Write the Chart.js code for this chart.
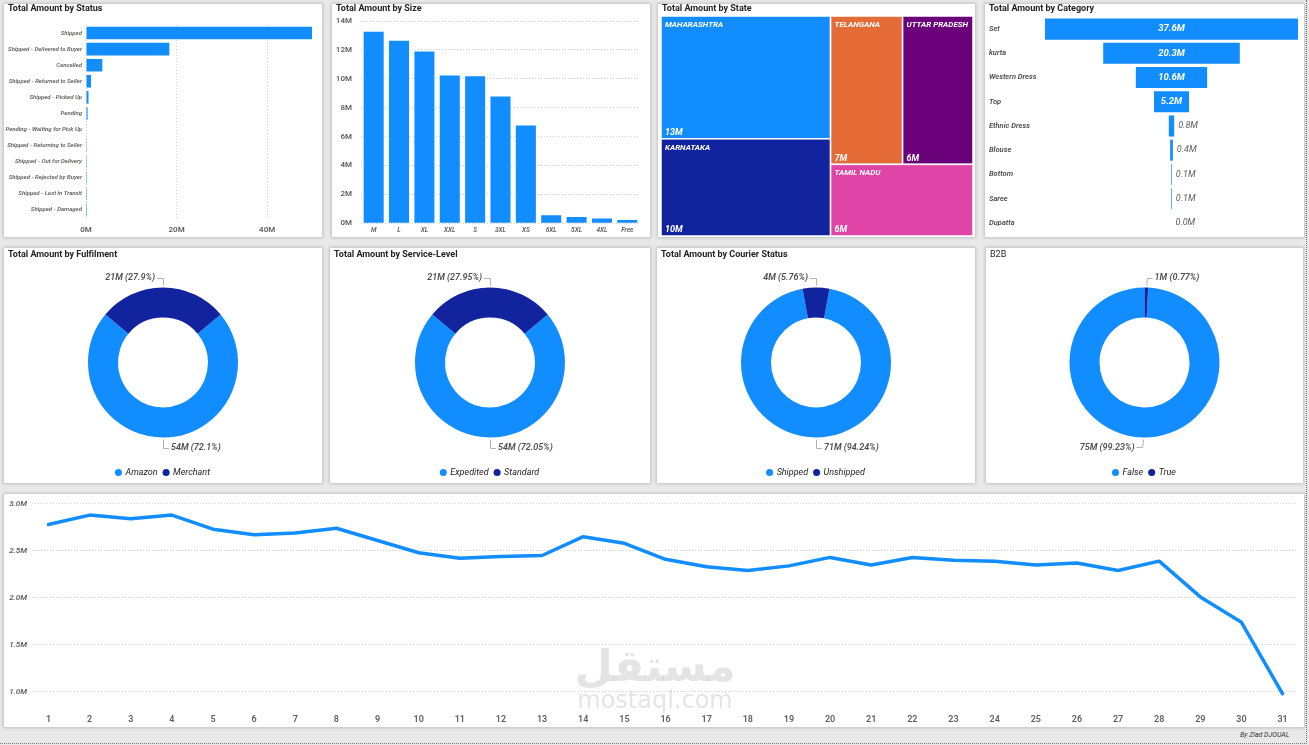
<!DOCTYPE html>
<html>
<head>
<meta charset="utf-8">
<title>Amazon Sales Dashboard</title>
<script src="https://cdn.jsdelivr.net/npm/chart.js@4.4.1/dist/chart.umd.min.js"></script>
<style>
  body { margin: 0; background: #e9e9e9; font-family: 'Segoe UI', Roboto, 'Noto Sans', sans-serif; }
  #page { position: relative; width: 1309px; height: 745px; overflow: hidden; }
  #frame { position: absolute; left: 0; top: 0; width: 1306px; height: 743px; border-right: 1px dotted #777; border-bottom: 1px dotted #777; }
  .panel { position: absolute; background: #fff; box-shadow: 0 0 3px 1px rgba(0,0,0,0.18); }
  .panel canvas { position: absolute; left: 0; top: 0; }
  .title { position: absolute; left: 4px; top: -1px; font-size: 9px; font-weight: bold; color: #252423; z-index: 2; white-space: nowrap; }
  #mark { position: absolute; left: 560px; top: 640px; width: 190px; text-align: center; color: rgba(170,170,170,0.32); pointer-events: none; z-index: 5; }
  #mark .ar { font-family: 'DejaVu Sans', sans-serif; font-weight: bold; font-size: 44px; line-height: 52px; }
  #mark .en { font-family: 'DejaVu Sans', sans-serif; font-size: 24px; line-height: 24px; margin-top: -4px; }
  #credit { position: absolute; left: 1240px; top: 731px; font-size: 7px; font-style: italic; color: #333; }
</style>
</head>
<body>
<div id="page">
  <div id="frame"></div>

  <div class="panel" style="left:4px;top:4px;width:318px;height:233px">
    <div class="title">Total Amount by Status</div>
    <canvas id="statusChart" width="318" height="233"></canvas>
  </div>
  <div class="panel" style="left:332px;top:4px;width:318px;height:233px">
    <div class="title">Total Amount by Size</div>
    <canvas id="sizeChart" width="318" height="233"></canvas>
  </div>
  <div class="panel" style="left:658px;top:4px;width:317px;height:233px">
    <div class="title">Total Amount by State</div>
    <canvas id="stateChart" width="317" height="233"></canvas>
  </div>
  <div class="panel" style="left:985px;top:4px;width:319px;height:233px">
    <div class="title">Total Amount by Category</div>
    <canvas id="categoryChart" width="319" height="233"></canvas>
  </div>

  <div class="panel" style="left:4px;top:248px;width:318px;height:235px">
    <div class="title" style="top:1px">Total Amount by Fulfilment</div>
    <canvas id="fulfilChart" width="318" height="235"></canvas>
  </div>
  <div class="panel" style="left:330px;top:248px;width:320px;height:235px">
    <div class="title" style="top:1px">Total Amount by Service-Level</div>
    <canvas id="serviceChart" width="320" height="235"></canvas>
  </div>
  <div class="panel" style="left:657px;top:248px;width:318px;height:235px">
    <div class="title" style="top:1px">Total Amount by Courier Status</div>
    <canvas id="courierChart" width="318" height="235"></canvas>
  </div>
  <div class="panel" style="left:986px;top:248px;width:317px;height:235px">
    <div class="title" style="top:1px;font-weight:normal">B2B</div>
    <canvas id="b2bChart" width="317" height="235"></canvas>
  </div>

  <div class="panel" style="left:4px;top:494px;width:1300px;height:233px">
    <canvas id="dailyChart" width="1300" height="233"></canvas>
  </div>

  <div id="mark"><div class="ar">مستقل</div><div class="en">mostaql.com</div></div>
  <div id="credit">By Ziad DJOUAL</div>
</div>

<script>
// amounts are in millions
const statusLabels = ['Shipped', 'Shipped - Delivered to Buyer', 'Cancelled', 'Shipped - Returned to Seller',
  'Shipped - Picked Up', 'Pending', 'Pending - Waiting for Pick Up', 'Shipped - Returning to Seller',
  'Shipped - Out for Delivery', 'Shipped - Rejected by Buyer', 'Shipped - Lost in Transit', 'Shipped - Damaged'];
const statusAmounts = [49.9, 18.4, 3.6, 1.1, 0.55, 0.35, 0.12, 0.05, 0.04, 0.03, 0.02, 0.01];
const statusTicks = [0, 20, 40];

const sizeLabels = ['M', 'L', 'XL', 'XXL', 'S', '3XL', 'XS', '6XL', '5XL', '4XL', 'Free'];
const sizeAmounts = [13.26, 12.64, 11.88, 10.23, 10.18, 8.78, 6.76, 0.55, 0.43, 0.32, 0.23];
const sizeTicks = [0, 2, 4, 6, 8, 10, 12, 14];

const stateLabels = ['MAHARASHTRA', 'KARNATAKA', 'TELANGANA', 'UTTAR PRADESH', 'TAMIL NADU'];
const stateAmounts = [12.86, 10.18, 6.6, 6.45, 6.3];

const categoryLabels = ['Set', 'kurta', 'Western Dress', 'Top', 'Ethnic Dress', 'Blouse', 'Bottom', 'Saree', 'Dupatta'];
const categoryAmounts = [37.6, 20.3, 10.6, 5.2, 0.8, 0.4, 0.1, 0.1, 0.0];

const fulfilLabels = ['Amazon', 'Merchant'];
const fulfilAmounts = [54.075, 20.925];
const serviceLabels = ['Expedited', 'Standard'];
const serviceAmounts = [54.0375, 20.9625];
const courierLabels = ['Shipped', 'Unshipped'];
const courierAmounts = [70.68, 4.32];
const b2bLabels = ['False', 'True'];
const b2bAmounts = [75.02, 0.58];

const days = [1, 2, 3, 4, 5, 6, 7, 8, 9, 10, 11, 12, 13, 14, 15, 16, 17, 18, 19, 20, 21, 22, 23, 24, 25, 26, 27, 28, 29, 30, 31];
const dailyAmounts = [2.78, 2.88, 2.84, 2.88, 2.73, 2.67, 2.69, 2.74, 2.61, 2.48, 2.42, 2.44, 2.45, 2.65, 2.58, 2.41,
  2.33, 2.29, 2.34, 2.43, 2.35, 2.43, 2.40, 2.39, 2.35, 2.37, 2.29, 2.39, 2.01, 1.74, 0.98];
const dailyTicks = [1.0, 1.5, 2.0, 2.5, 3.0];

const BLUE = '#118DFF';
const NAVY = '#12239E';
const stateColors = ['#118DFF', '#12239E', '#E66C37', '#6B007B', '#E044A7'];
const FONT = "'Segoe UI', Roboto, 'Noto Sans', sans-serif";
const GREY = '#605E5C';

Chart.defaults.font.family = FONT;
Chart.defaults.color = GREY;
Chart.defaults.animation = false;
Chart.defaults.responsive = false;
Chart.defaults.plugins.tooltip.enabled = false;

const dotted = { color: '#cfcfcf', drawTicks: false };
const noBorder = { display: false, dash: [1, 2] };
const noGrid = { display: false, drawTicks: false };

// ---------- Status (horizontal bars) ----------
new Chart(document.getElementById('statusChart'), {
    type: 'bar',
    data: {
        labels: statusLabels,
        datasets: [{ data: statusAmounts, backgroundColor: BLUE, barPercentage: 0.78, categoryPercentage: 1 }]
    },
    options: {
        indexAxis: 'y',
        layout: { padding: { top: 21, right: 10 } },
        plugins: { legend: { display: false } },
        scales: {
            x: {
                min: 0, max: Math.max(...statusAmounts),
                afterBuildTicks: s => { s.ticks = statusTicks.map(v => ({ value: v })); },
                afterFit: s => { s.height = 19; },
                grid: dotted, border: noBorder,
                ticks: { padding: 7, font: { size: 8, weight: '600' }, callback: v => v + 'M' }
            },
            y: {
                afterFit: s => { s.width = 82; },
                grid: noGrid, border: { display: false },
                ticks: { padding: 4, font: { size: 6, style: 'italic', weight: '600' }, autoSkip: false }
            }
        }
    }
});

// ---------- Size (columns) ----------
new Chart(document.getElementById('sizeChart'), {
    type: 'bar',
    data: {
        labels: sizeLabels,
        datasets: [{ data: sizeAmounts, backgroundColor: BLUE, barPercentage: 0.79, categoryPercentage: 1 }]
    },
    options: {
        layout: { padding: { top: 17, right: 10 } },
        plugins: { legend: { display: false } },
        scales: {
            x: {
                afterFit: s => { s.height = 13; },
                grid: noGrid, border: { display: false },
                ticks: { padding: 3, font: { size: 6.5, style: 'italic', weight: '600' }, autoSkip: false, maxRotation: 0 }
            },
            y: {
                min: 0, max: 14,
                afterBuildTicks: s => { s.ticks = sizeTicks.map(v => ({ value: v })); },
                afterFit: s => { s.width = 29; },
                grid: dotted, border: noBorder,
                ticks: { padding: 9, font: { size: 8, weight: '600' }, callback: v => v + 'M' }
            }
        }
    }
});

// ---------- State (treemap, squarified like d3) ----------
function squarify(items, x0, y0, x1, y1) {
    const ratio = (1 + Math.sqrt(5)) / 2;
    const out = [];
    let value = items.reduce((s, d) => s + d.value, 0);
    let i0 = 0;
    while (i0 < items.length) {
        const dx = x1 - x0, dy = y1 - y0;
        let i1 = i0;
        let sum = items[i1++].value, minV = sum, maxV = sum;
        const alpha = Math.max(dy / dx, dx / dy) / (value * ratio);
        let beta = sum * sum * alpha;
        let minRatio = Math.max(maxV / beta, beta / minV);
        for (; i1 < items.length; i1++) {
            const v = items[i1].value;
            sum += v;
            const mn = Math.min(minV, v), mx = Math.max(maxV, v);
            beta = sum * sum * alpha;
            const r = Math.max(mx / beta, beta / mn);
            if (r > minRatio) { sum -= v; break; }
            minRatio = r; minV = mn; maxV = mx;
        }
        const row = items.slice(i0, i1);
        if (dx < dy) {
            const yEnd = y0 + dy * sum / value;
            let x = x0;
            row.forEach(d => { const w = dx * d.value / sum; out.push({ i: d.i, x0: x, y0: y0, x1: x + w, y1: yEnd }); x += w; });
            y0 = yEnd;
        } else {
            const xEnd = x0 + dx * sum / value;
            let y = y0;
            row.forEach(d => { const h = dy * d.value / sum; out.push({ i: d.i, x0: x0, y0: y, x1: xEnd, y1: y + h }); y += h; });
            x0 = xEnd;
        }
        value -= sum;
        i0 = i1;
    }
    return out;
}

const treemapPlugin = {
    id: 'treemap',
    afterDatasetsDraw(chart) {
        const ctx = chart.ctx;
        const ds = chart.data.datasets[0];
        const { x, y } = chart.scales;
        const items = ds.amounts.map((v, i) => ({ value: v, i: i })).sort((a, b) => b.value - a.value);
        const cells = squarify(items, x.getPixelForValue(0), y.getPixelForValue(1), x.getPixelForValue(1), y.getPixelForValue(0));
        ctx.save();
        cells.forEach(c => {
            ctx.fillStyle = ds.colors[c.i];
            ctx.fillRect(c.x0, c.y0, c.x1 - c.x0, c.y1 - c.y0);
            ctx.strokeStyle = '#fff';
            ctx.lineWidth = 1.5;
            ctx.strokeRect(c.x0, c.y0, c.x1 - c.x0, c.y1 - c.y0);
            ctx.fillStyle = '#fff';
            ctx.font = `italic bold 8px ${FONT}`;
            ctx.textAlign = 'left';
            ctx.textBaseline = 'middle';
            ctx.fillText(chart.data.labels[c.i], c.x0 + 4, c.y0 + 9);
            ctx.font = `italic bold 9px ${FONT}`;
            ctx.fillText(Math.round(ds.amounts[c.i]) + 'M', c.x0 + 4, c.y1 - 6);
        });
        ctx.restore();
    }
};

new Chart(document.getElementById('stateChart'), {
    type: 'scatter',
    data: { labels: stateLabels, datasets: [{ data: [], amounts: stateAmounts, colors: stateColors }] },
    options: {
        layout: { padding: { left: 3, right: 2, top: 12, bottom: 1 } },
        plugins: { legend: { display: false } },
        scales: {
            x: { type: 'linear', min: 0, max: 1, display: false },
            y: { type: 'linear', min: 0, max: 1, display: false }
        }
    },
    plugins: [treemapPlugin]
});

// ---------- Category (funnel made of centred floating bars) ----------
const funnelLabels = {
    id: 'funnelLabels',
    afterDatasetsDraw(chart) {
        const ctx = chart.ctx;
        const amounts = chart.data.datasets[0].amounts;
        chart.getDatasetMeta(0).data.forEach((bar, i) => {
            const { x, y, base } = bar.getProps(['x', 'y', 'base']);
            const left = Math.min(x, base), right = Math.max(x, base);
            const text = amounts[i].toFixed(1) + 'M';
            ctx.save();
            ctx.textBaseline = 'middle';
            if (right - left > 30) {
                ctx.fillStyle = '#fff';
                ctx.font = `italic bold 9.5px ${FONT}`;
                ctx.textAlign = 'center';
                ctx.fillText(text, (left + right) / 2, y);
            } else {
                ctx.fillStyle = GREY;
                ctx.font = `italic 9px ${FONT}`;
                ctx.textAlign = 'left';
                ctx.fillText(text, right + 4, y);
            }
            ctx.restore();
        });
    }
};

const maxCategory = Math.max(...categoryAmounts);
new Chart(document.getElementById('categoryChart'), {
    type: 'bar',
    data: {
        labels: categoryLabels,
        datasets: [{
            data: categoryAmounts.map(v => [-v / 2, v / 2]),
            amounts: categoryAmounts,
            backgroundColor: BLUE, barPercentage: 0.87, categoryPercentage: 1
        }]
    },
    options: {
        indexAxis: 'y',
        layout: { padding: { left: 4, top: 13, right: 6, bottom: 2 } },
        plugins: { legend: { display: false } },
        scales: {
            x: { min: -maxCategory / 2, max: maxCategory / 2, display: false },
            y: {
                afterFit: s => { s.width = 56; s.paddingTop = 0; s.paddingBottom = 0; },
                grid: noGrid, border: { display: false },
                ticks: { crossAlign: 'far', font: { size: 7.5, style: 'italic', weight: '600' }, color: '#4a4a4a', autoSkip: false }
            }
        }
    },
    plugins: [funnelLabels]
});

// ---------- Donuts ----------
const donutLabels = {
    id: 'donutLabels',
    afterDatasetsDraw(chart) {
        const ctx = chart.ctx;
        const values = chart.data.datasets[0].data;
        const total = values.reduce((a, b) => a + b, 0);
        chart.getDatasetMeta(0).data.forEach((arc, i) => {
            const { x, y, startAngle, endAngle, outerRadius } = arc.getProps(['x', 'y', 'startAngle', 'endAngle', 'outerRadius']);
            const mid = (startAngle + endAngle) / 2;
            const fromTop = (((mid + Math.PI / 2) % (2 * Math.PI)) + 2 * Math.PI) % (2 * Math.PI);
            const right = fromTop > 0.01 && fromTop <= Math.PI + 0.01;
            const x1 = x + Math.cos(mid) * (outerRadius + 2), y1 = y + Math.sin(mid) * (outerRadius + 2);
            const x2 = x + Math.cos(mid) * (outerRadius + 10), y2 = y + Math.sin(mid) * (outerRadius + 10);
            const x3 = x2 + (right ? 6 : -6);
            ctx.save();
            ctx.strokeStyle = '#b3b0ad';
            ctx.lineWidth = 1;
            ctx.beginPath();
            ctx.moveTo(Math.round(x1) + 0.5, y1);
            ctx.lineTo(Math.round(x2) + 0.5, Math.round(y2) + 0.5);
            ctx.lineTo(x3, Math.round(y2) + 0.5);
            ctx.stroke();
            const pct = (values[i] / total * 100).toFixed(2).replace(/0$/, '');
            ctx.font = `italic 600 9px ${FONT}`;
            ctx.fillStyle = '#505050';
            ctx.textAlign = right ? 'left' : 'right';
            ctx.textBaseline = 'middle';
            ctx.fillText(`${Math.round(values[i])}M (${pct}%)`, x3 + (right ? 2 : -2), y2);
            ctx.restore();
        });
    }
};

function makeDonut(id, labels, amounts, spin) {
    const total = amounts.reduce((a, b) => a + b, 0);
    new Chart(document.getElementById(id), {
        type: 'doughnut',
        data: { labels: labels, datasets: [{ data: amounts, backgroundColor: [BLUE, NAVY], borderWidth: 0 }] },
        options: {
            radius: 75,
            cutout: '60%',
            rotation: amounts[1] / total * 360 * spin,
            layout: { padding: { top: 15, bottom: -4 } },
            plugins: {
                legend: {
                    position: 'bottom',
                    labels: {
                        usePointStyle: true, pointStyle: 'circle', boxWidth: 5, boxHeight: 5, padding: 6,
                        color: '#252423', font: { size: 9, style: 'italic' }
                    }
                }
            }
        },
        plugins: [donutLabels]
    });
}

makeDonut('fulfilChart', fulfilLabels, fulfilAmounts, 0.5);
makeDonut('serviceChart', serviceLabels, serviceAmounts, 0.5);
makeDonut('courierChart', courierLabels, courierAmounts, 0.5);
makeDonut('b2bChart', b2bLabels, b2bAmounts, 1);

// ---------- Daily line ----------
new Chart(document.getElementById('dailyChart'), {
    type: 'line',
    data: {
        datasets: [{
            data: dailyAmounts.map((v, i) => ({ x: days[i], y: v })),
            borderColor: BLUE, borderWidth: 3.5, pointRadius: 0, tension: 0,
            borderJoinStyle: 'round', borderCapStyle: 'round'
        }]
    },
    options: {
        layout: { padding: { top: 9, right: 7 } },
        plugins: { legend: { display: false } },
        scales: {
            x: {
                type: 'linear', min: 0.6, max: 31.35,
                afterBuildTicks: s => { s.ticks = days.map(v => ({ value: v })); },
                afterFit: s => { s.height = 21; },
                grid: noGrid, border: { display: false },
                ticks: { padding: 8, font: { size: 9, weight: '600' }, maxRotation: 0, autoSkip: false }
            },
            y: {
                min: 0.85, max: 3.0,
                afterBuildTicks: s => { s.ticks = dailyTicks.map(v => ({ value: v })); },
                afterFit: s => { s.width = 28; },
                grid: dotted, border: noBorder,
                ticks: { padding: 5, font: { size: 8, style: 'italic', weight: '600' }, callback: v => v.toFixed(1) + 'M' }
            }
        }
    }
});
</script>
</body>
</html>
